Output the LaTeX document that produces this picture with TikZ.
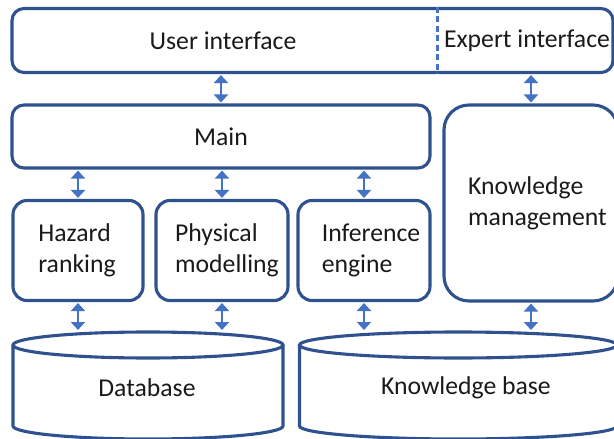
\documentclass[tikz,border=0pt]{standalone}
\usepackage{fontspec}
\setmainfont{Carlito}
\usepackage{tikz}
\usetikzlibrary{positioning, arrows.meta}
\definecolor{frame}{HTML}{2F528F}
\definecolor{linkblue}{HTML}{4472C4}
\definecolor{ink}{HTML}{1A1A1A}
\tikzset{
  panel/.style  = {rectangle, rounded corners=12pt, draw=frame, line width=3.1pt,
                   fill=white, inner sep=0pt, text=ink,
                   font=\fontsize{25.7}{31}\selectfont},
  module/.style = {panel, rounded corners=14pt, minimum height=100pt},
  label/.style  = {text=ink, font=\fontsize{25.7}{31}\selectfont,
                   align=left, inner sep=0pt},
  store/.style  = {draw=frame, line width=3.1pt, fill=white},
  biar/.style   = {{Triangle[length=8pt,width=14pt]}-{Triangle[length=8pt,width=14pt]},
                   draw=linkblue, line width=2.6pt, shorten <=1pt, shorten >=1pt},
  sep/.style    = {draw=linkblue, line width=2.4pt, dash pattern=on 6pt off 3.5pt},
}

\begin{document}
\begin{tikzpicture}[x=1pt, y=-1pt]

  \useasboundingbox (0,0) rectangle (614,439);
  \clip (0,0) rectangle (614,439);

  % interfaces
  \node[panel, minimum width=601pt, minimum height=64pt] (ui) at (312.5,40.5) {};
  \node[label] (user) at (223,41) {User interface};
  \node[label] (expert) at (527,41) {Expert interface};
  \coordinate (cut) at (437.5,40);
  \draw[sep] (ui.north -| cut) -- (ui.south -| cut);

  % main and modules
  \node[panel, minimum width=418pt, minimum height=63pt] (main) at (221,136.5) {Main};
  \node[panel, rounded corners=25pt, minimum width=174pt, minimum height=196pt] (km) at (531,203) {};
  \node[label, anchor=west] (kmtxt) at (468,203) {Knowledge\\management};

  \node[module, minimum width=130pt] (hazard) at (78,250.5) {};
  \node[module, minimum width=132pt] (physical) at (222,250.5) {};
  \node[module, minimum width=132pt] (inference) at (364,250.5) {};
  \node[label] (hazardtxt) at (77,250.5) {Hazard\\ranking};
  \node[label] (physicaltxt) at (227,250.5) {Physical\\modelling};
  \node[label] (inferencetxt) at (371,250.5) {Inference\\engine};

  % stores
  \draw[store] (13,345) -- (13,426) arc[start angle=180, end angle=0, x radius=135, y radius=13] -- (283,345);
  \draw[store] (148,345) ellipse[x radius=135, y radius=13];
  \node[label] (db) at (147,388) {Database};

  \draw[store] (299.5,345) -- (299.5,426) arc[start angle=180, end angle=0, x radius=158.75, y radius=13] -- (617,345);
  \draw[store] (458.25,345) ellipse[x radius=158.75, y radius=13];
  \node[label] (kb) at (466,388) {Knowledge base};

  \coordinate (dbhazard) at (78,331);
  \coordinate (dbphysical) at (222,331);
  \coordinate (kbinference) at (364,331);
  \coordinate (kbkm) at (531,331);

  % links
  \draw[biar] (ui.south -| main) -- (main.north);
  \draw[biar] (ui.south -| km) -- (km.north);
  \foreach \m in {hazard, physical, inference}
    {\draw[biar] (main.south -| \m) -- (\m.north);}
  \draw[biar] (hazard.south) -- (dbhazard);
  \draw[biar] (physical.south) -- (dbphysical);
  \draw[biar] (inference.south) -- (kbinference);
  \draw[biar] (km.south) -- (kbkm);

\end{tikzpicture}
\end{document}
